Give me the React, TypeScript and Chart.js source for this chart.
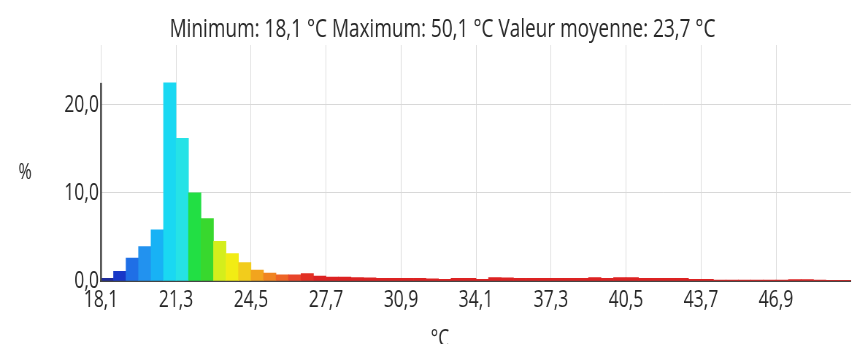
import React, { useEffect, useRef } from 'react';
import { Chart, registerables } from 'chart.js';

Chart.register(...registerables);

// ---- data ----
const binStart = 18.1;
const binEnd = 50.1;
const percentValues = [
  0.3, 1.1, 2.6, 3.9, 5.8, 22.5, 16.2, 10.0, 7.1, 4.5,
  3.1, 2.1, 1.25, 0.9, 0.7, 0.7, 0.85, 0.55, 0.45, 0.45,
  0.4, 0.35, 0.3, 0.3, 0.3, 0.3, 0.25, 0.2, 0.3, 0.3,
  0.2, 0.4, 0.35, 0.3, 0.3, 0.3, 0.3, 0.3, 0.3, 0.4,
  0.3, 0.4, 0.4, 0.3, 0.3, 0.3, 0.3, 0.2, 0.2, 0.1,
  0.1, 0.1, 0.1, 0.1, 0.1, 0.15, 0.15, 0.1, 0.05, 0.05,
];
const xTickValues = [18.1, 21.3, 24.5, 27.7, 30.9, 34.1, 37.3, 40.5, 43.7, 46.9];
const yTickValues = [0, 10, 20];
const titleText = 'Minimum: 18,1 °C Maximum: 50,1 °C Valeur moyenne: 23,7 °C';
const yAxisLabel = '%';
const xAxisLabel = '°C';

// ---- style ----
const headColors = [
  '#1e2a9a', '#1838c8', '#1f6fe6', '#2292ef', '#18b2f5', '#1ad8f2', '#26e2e6',
  '#22df44', '#38d82e', '#d4ee1c', '#f2ec14', '#f2cc1c', '#f2a41e', '#f08422',
  '#ee6426', '#e8442a', '#e23024',
];
const colorForBin = (i: number) => (i < headColors.length ? headColors[i] : '#dc2222');

const SX = 0.73; // horizontal squeeze of the whole drawing
const OUT_W = 857;
const OUT_H = 344;
const W = Math.round(OUT_W / SX);
const H = OUT_H;
const FONT = '"Open Sans", "Noto Sans", sans-serif';
const TEXT = '#262626';
const fmt = (v: number, d = 1) => v.toFixed(d).replace('.', ',');

export default function App() {
  const ref = useRef<HTMLCanvasElement | null>(null);

  useEffect(() => {
    if (!ref.current) return;
    const n = percentValues.length;
    const w = (binEnd - binStart) / n;
    const data = percentValues.map((v, i) => ({ x: binStart + w * (i + 0.5), y: v }));

    const extras = {
      id: 'extras',
      afterDraw(chart: any) {
        const { ctx, chartArea, scales } = chart;
        ctx.save();
        ctx.fillStyle = TEXT;
        // title
        ctx.font = `26px ${FONT}`;
        ctx.textAlign = 'center';
        ctx.textBaseline = 'middle';
        ctx.fillText(titleText, 442.5 / SX, 30);
        // y label
        ctx.font = `22px ${FONT}`;
        ctx.fillText(yAxisLabel, 25 / SX, 173);
        // x label
        ctx.font = `24px ${FONT}`;
        ctx.textBaseline = 'alphabetic';
        ctx.fillText(xAxisLabel, 440 / SX, 346);
        // y axis line up to max value
        const y0 = scales.y.getPixelForValue(0);
        const yTop = scales.y.getPixelForValue(Math.max(...percentValues));
        ctx.strokeStyle = '#444444';
        ctx.lineWidth = 2.5;
        ctx.beginPath();
        ctx.moveTo(chartArea.left, y0 + 1);
        ctx.lineTo(chartArea.left, yTop);
        ctx.stroke();
        ctx.restore();
      },
    };

    const chart = new Chart(ref.current, {
      type: 'bar',
      data: {
        datasets: [
          {
            data,
            backgroundColor: percentValues.map((_, i) => colorForBin(i)),
            borderWidth: 0,
            barPercentage: 1,
            categoryPercentage: 1,
          },
        ],
      },
      options: {
        animation: false,
        responsive: false,
        devicePixelRatio: 1,
        layout: { padding: { top: 45, right: W - 851 / SX, left: 0, bottom: 0 } },
        plugins: { legend: { display: false }, tooltip: { enabled: false }, title: { display: false } },
        scales: {
          x: {
            type: 'linear',
            min: binStart,
            max: binEnd,
            offset: false,
            grid: { offset: false, color: '#dcdcdc', lineWidth: 1, drawTicks: false },
            border: { display: true, color: '#444444', width: 2 },
            afterFit: (s: any) => { s.height = H - 281; },
            afterBuildTicks: (s: any) => { s.ticks = xTickValues.map((v) => ({ value: v })); },
            ticks: {
              autoSkip: false,
              maxRotation: 0,
              padding: 5,
              color: TEXT,
              font: { family: FONT, size: 24 },
              callback: (v: any) => fmt(Number(v)),
            },
          },
          y: {
            min: 0,
            max: 26.8,
            grid: { color: (c: any) => (c.tick && c.tick.value === 0 ? 'rgba(0,0,0,0)' : '#d8d8d8'), drawTicks: false },
            border: { display: false },
            afterFit: (s: any) => { s.width = 101 / SX; },
            afterBuildTicks: (s: any) => { s.ticks = yTickValues.map((v) => ({ value: v })); },
            ticks: {
              padding: 3,
              color: TEXT,
              font: { family: FONT, size: 24 },
              callback: (v: any) => fmt(Number(v)),
            },
          },
        },
      },
      plugins: [extras],
    } as any);

    return () => chart.destroy();
  }, []);

  return (
    <div style={{ position: 'fixed', left: 0, top: 0, width: OUT_W, height: OUT_H, overflow: 'hidden', background: '#fff' }}>
      <canvas
        ref={ref}
        width={W}
        height={H}
        style={{ width: W, height: H, transform: `scaleX(${SX})`, transformOrigin: '0 0', display: 'block' }}
      />
    </div>
  );
}
